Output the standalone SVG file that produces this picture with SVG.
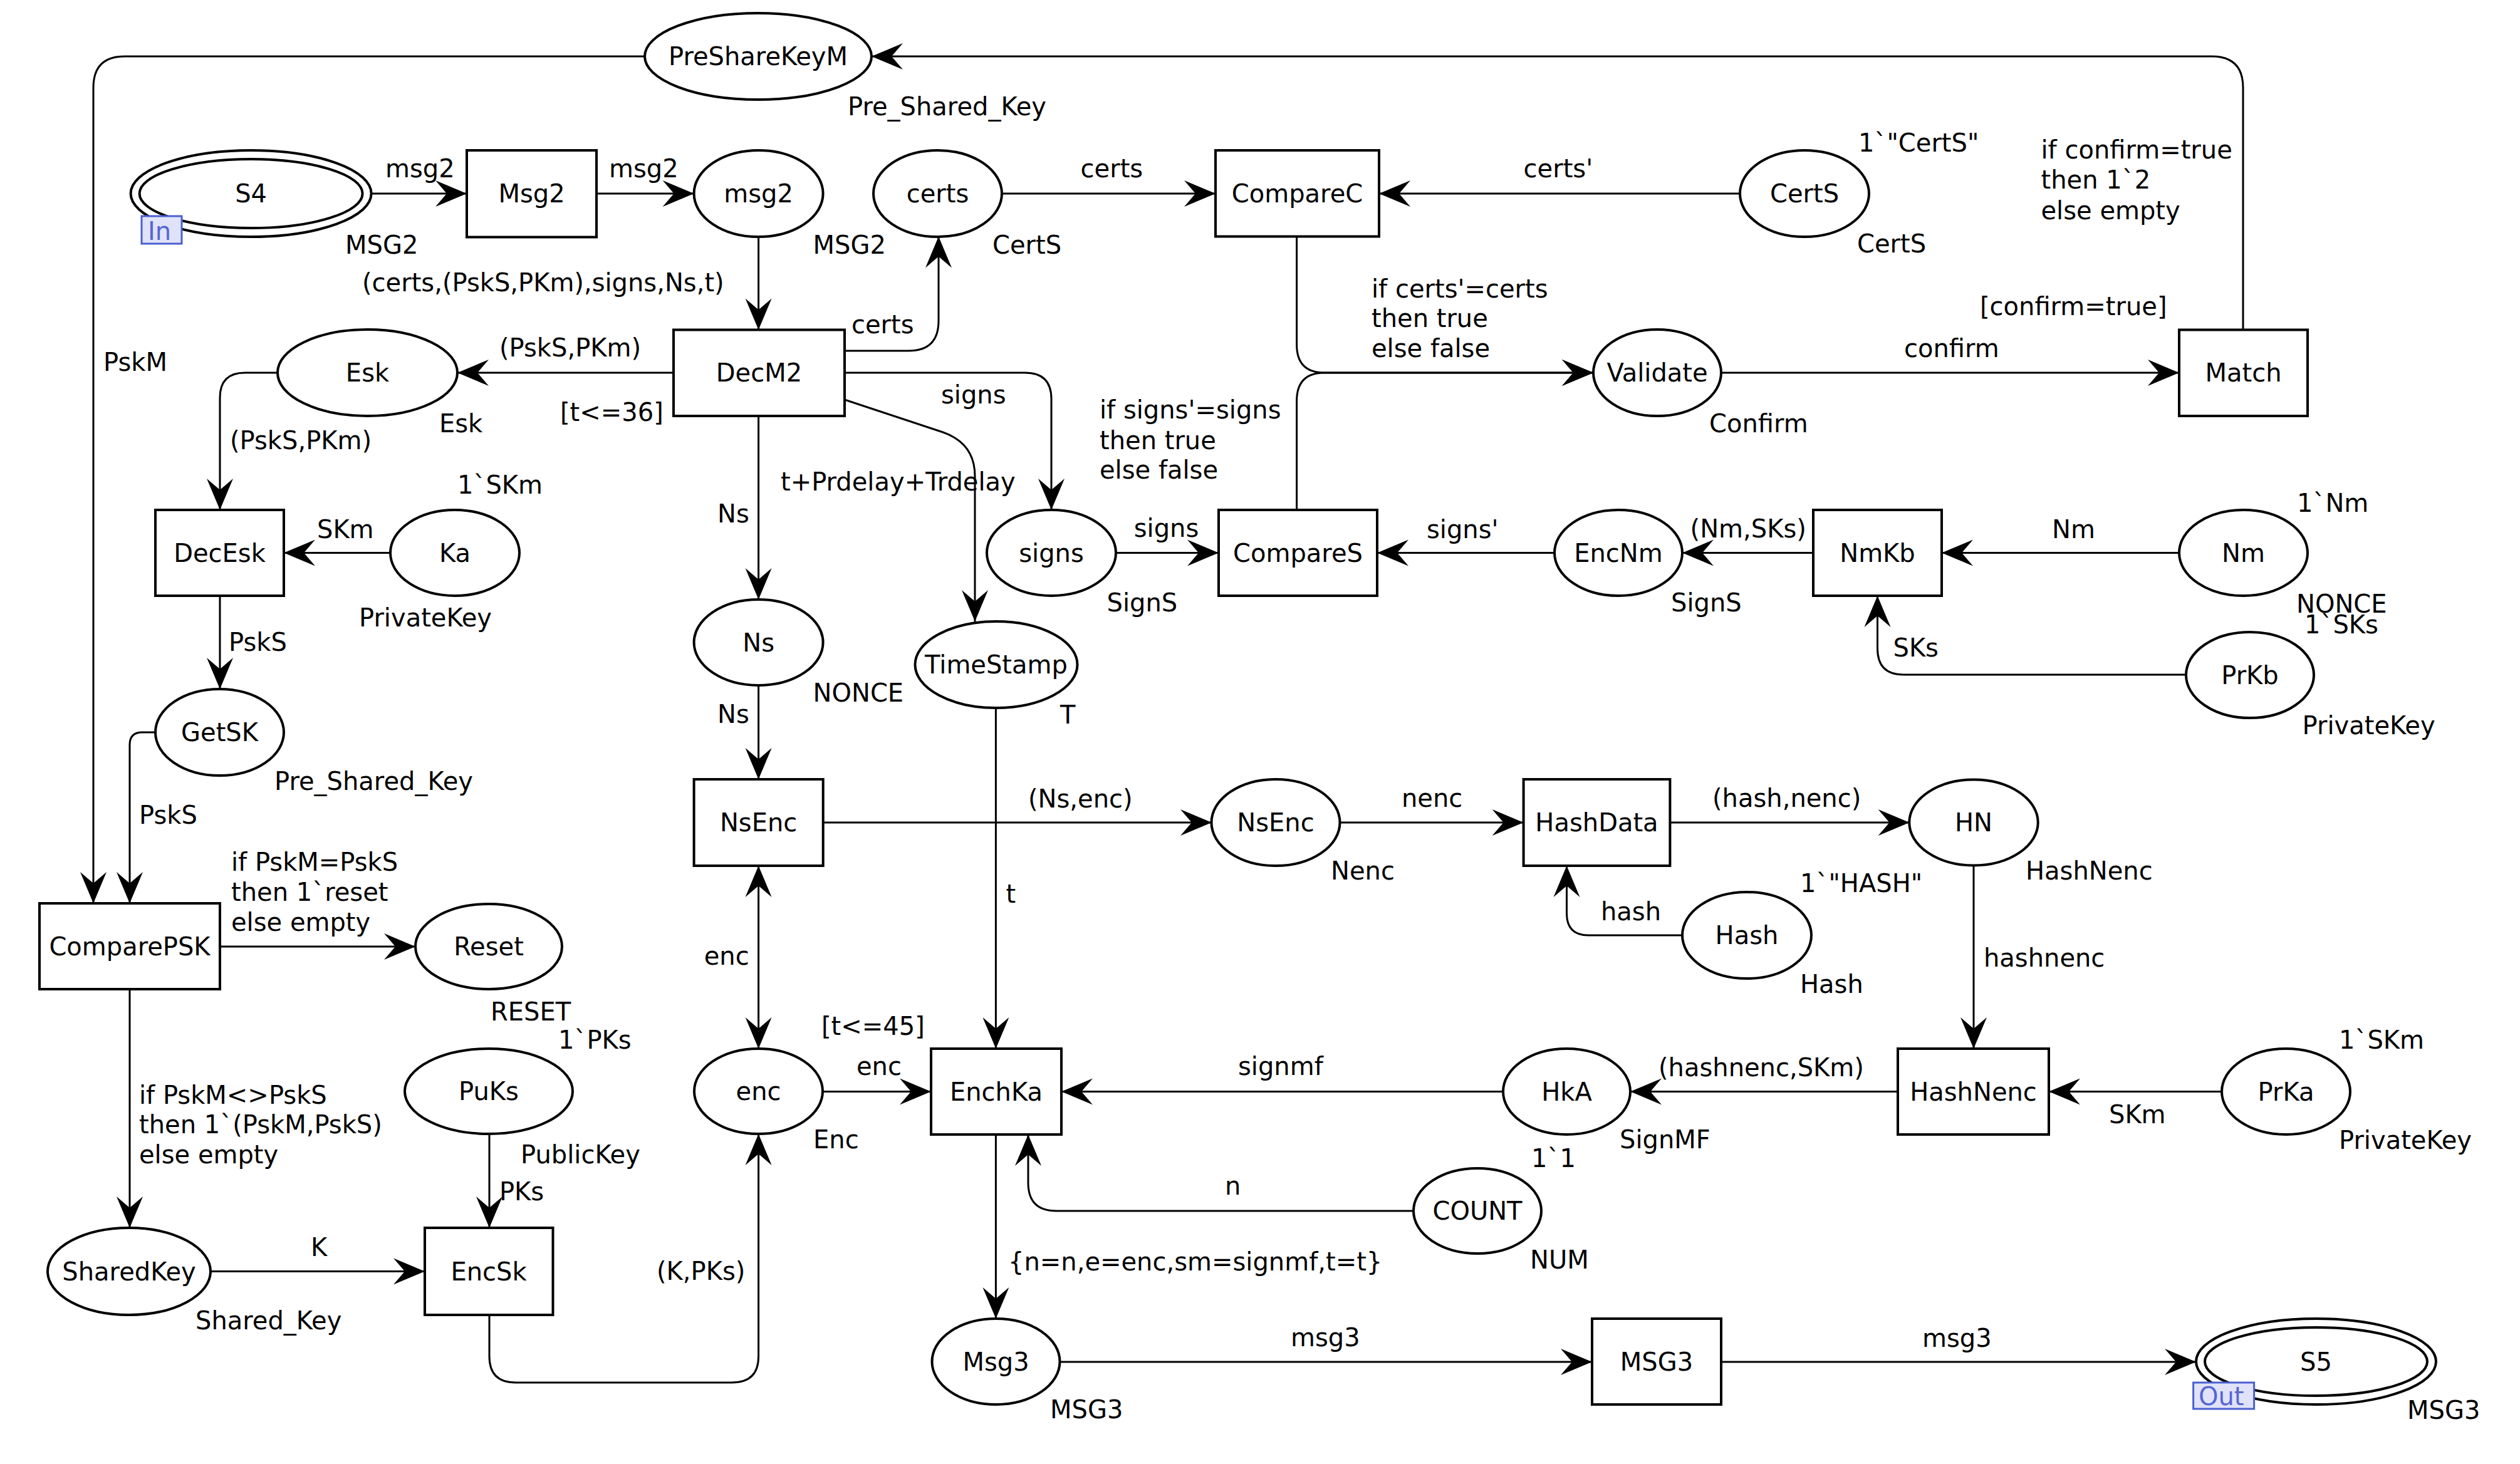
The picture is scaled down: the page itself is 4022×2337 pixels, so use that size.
<svg xmlns="http://www.w3.org/2000/svg" width="4022" height="2337" viewBox="0 0 4022 2337">
<style>
text{font-family:"DejaVu Sans","Liberation Sans",sans-serif;font-size:40px;fill:#000}
.nl{text-anchor:middle}
.pl{fill:#fff;stroke:#000;stroke-width:4}
.tr{fill:#fff;stroke:#000;stroke-width:4}
.arc{fill:none;stroke:#000;stroke-width:3;marker-end:url(#ah)}
.ln{fill:none;stroke:#000;stroke-width:3}
.tag{fill:#e0e2fa;stroke:#4a5fcf;stroke-width:3}
.tagt{fill:#5566d4;font-size:40px}
</style>
<defs>
<marker id="ah" markerUnits="userSpaceOnUse" viewBox="-52 -23 54 46" markerWidth="54" markerHeight="46" refX="0" refY="0" orient="auto-start-reverse">
<path d="M0,0 L-50,-21 L-32,0 L-50,21 Z" fill="#000"/>
</marker>
</defs>
<rect width="4022" height="2337" fill="#fff"/>

<g id="connectors">
<path class="arc" d="M1029,90 H199 Q149,90 149,140 V1442"/>
<path class="arc" d="M3580,526.5 V140 Q3580,90 3530,90 H1391"/>
<path class="arc" d="M593,309 H745"/>
<path class="arc" d="M952,309 H1107.6"/>
<path class="arc" d="M1210.6,377.5 V526.5"/>
<path class="arc" d="M1599,309 H1940"/>
<path class="arc" d="M2777,309 H2201"/>
<path class="arc" d="M1348,560 H1450 Q1498,560 1498,512 V377.5"/>
<path class="arc" d="M1075,595 H730"/>
<path class="arc" d="M1348,595 H1636 Q1678,595 1678,637 V814"/>
<path class="arc" d="M1348,638 L1505,690 Q1556,708 1556,760 V992"/>
<path class="arc" d="M443,595 H391 Q351,595 351,635 V814"/>
<path class="arc" d="M623.5,882.5 H453"/>
<path class="arc" d="M351,951 V1100"/>
<path class="arc" d="M248,1169 H227 Q207,1169 207,1189 V1442"/>
<path class="arc" d="M351,1511 H663"/>
<path class="arc" d="M207,1579 V1960"/>
<path class="arc" d="M336,2029.5 H678"/>
<path class="arc" d="M781,1810 V1960"/>
<path class="arc" d="M781,2099 V2165 Q781,2207 823,2207 H1168 Q1210.6,2207 1210.6,2165 V1810"/>
<path class="arc" d="M1210.6,664 V957"/>
<path class="arc" d="M1210.6,1094 V1244"/>
<path class="arc" style="marker-start:url(#ah)" d="M1210.6,1382 V1674"/>
<path class="arc" d="M1589.4,1130 V1674"/>
<path class="arc" d="M1313,1742.5 H1486"/>
<path class="arc" d="M1313.7,1313 H1934"/>
<path class="arc" d="M2138.5,1313 H2431.6"/>
<path class="arc" d="M2665.4,1313 H3047.6"/>
<path class="arc" d="M2685,1493 H2535 Q2500.5,1493 2500.5,1458 V1382"/>
<path class="arc" d="M3150,1381 V1674"/>
<path class="arc" d="M3546,1742.5 H3270"/>
<path class="arc" d="M3029,1742.5 H2602"/>
<path class="arc" d="M2399,1742.5 H1694"/>
<path class="arc" d="M2256,1933 H1686 Q1641,1933 1641,1888 V1811"/>
<path class="arc" d="M1589.4,1811 V2105"/>
<path class="arc" d="M1691,2174 H2541"/>
<path class="arc" d="M2747,2174 H3505"/>
<path class="arc" d="M1780.7,882.5 H1945"/>
<path class="arc" d="M2481,882.5 H2198"/>
<path class="arc" d="M2894,882.5 H2685"/>
<path class="arc" d="M3478,882.5 H3099"/>
<path class="arc" d="M3489,1077 H3038 Q2996.5,1077 2996.5,1035 V951"/>
<path class="arc" d="M2069.6,377.5 V550 Q2069.6,595 2114,595 H2543"/>
<path class="arc" d="M2069.6,814 V640 Q2069.6,595 2114,595 H2543"/>
<path class="arc" d="M2747,595 H3478"/>

<text x="615" y="283">msg2</text>
<text x="972" y="283">msg2</text>
<text x="1724.6" y="283">certs</text>
<text x="2431.6" y="283">certs'</text>
<text x="3257.5" y="252.5">if confirm=true<tspan x="3257.5" y="301">then 1`2</tspan><tspan x="3257.5" y="349.5">else empty</tspan></text>
<text x="165" y="592">PskM</text>
<text x="578" y="465">(certs,(PskS,PKm),signs,Ns,t)</text>
<text x="1359" y="532">certs</text>
<text x="797" y="569">(PskS,PKm)</text>
<text x="367" y="717">(PskS,PKm)</text>
<text x="1502" y="644">signs</text>
<text x="1755" y="668">if signs'=signs<tspan x="1755" y="717">then true</tspan><tspan x="1755" y="764">else false</tspan></text>
<text x="2189" y="474.5">if certs'=certs<tspan x="2189" y="522">then true</tspan><tspan x="2189" y="570">else false</tspan></text>
<text x="3039" y="570">confirm</text>
<text x="1246" y="783">t+Prdelay+Trdelay</text>
<text x="1145" y="833.6">Ns</text>
<text x="506" y="859">SKm</text>
<text x="1809.7" y="856.5">signs</text>
<text x="2277" y="859">signs'</text>
<text x="2697.6" y="858">(Nm,SKs)</text>
<text x="3275" y="859">Nm</text>
<text x="365" y="1039">PskS</text>
<text x="3021.5" y="1048">SKs</text>
<text x="1145" y="1154">Ns</text>
<text x="1641" y="1288.7">(Ns,enc)</text>
<text x="2237" y="1287.6">nenc</text>
<text x="2733" y="1287.6">(hash,nenc)</text>
<text x="222" y="1315">PskS</text>
<text x="369" y="1390">if PskM=PskS<tspan x="369" y="1438">then 1`reset</tspan><tspan x="369" y="1485.6">else empty</tspan></text>
<text x="1605.5" y="1440.7">t</text>
<text x="2555" y="1469">hash</text>
<text x="1123.7" y="1540">enc</text>
<text x="3166" y="1543">hashnenc</text>
<text x="1367" y="1716">enc</text>
<text x="1976" y="1716">signmf</text>
<text x="2647" y="1717.6">(hashnenc,SKm)</text>
<text x="222" y="1762">if PskM&lt;&gt;PskS<tspan x="222" y="1809">then 1`(PskM,PskS)</tspan><tspan x="222" y="1857">else empty</tspan></text>
<text x="3366" y="1793">SKm</text>
<text x="1955" y="1907">n</text>
<text x="797" y="1916">PKs</text>
<text x="496" y="2005">K</text>
<text x="1609" y="2028">{n=n,e=enc,sm=signmf,t=t}</text>
<text x="1048" y="2043">(K,PKs)</text>
<text x="2060" y="2149">msg3</text>
<text x="3068" y="2150">msg3</text>
</g>

<g id="p-PreShareKeyM"><ellipse class="pl" cx="1210" cy="90" rx="181" ry="69"/><text class="nl" x="1210" y="104">PreShareKeyM</text><text x="1353" y="183.7">Pre_Shared_Key</text></g>
<g id="p-S4"><ellipse class="pl" cx="400.6" cy="309" rx="192" ry="69"/><ellipse class="pl" cx="400.6" cy="309" rx="178" ry="55"/><text class="nl" x="400.6" y="323">S4</text><rect class="tag" x="226" y="345" width="64" height="44"/><text class="tagt" x="236" y="383">In</text><text x="551" y="404.6">MSG2</text></g>
<g id="t-Msg2"><rect class="tr" x="745" y="240" width="207" height="138.5"/><text class="nl" x="848.5" y="323">Msg2</text></g>
<g id="p-msg2"><ellipse class="pl" cx="1210.6" cy="309" rx="103" ry="69"/><text class="nl" x="1210.6" y="323">msg2</text><text x="1297.6" y="404.6">MSG2</text></g>
<g id="p-certs"><ellipse class="pl" cx="1496.5" cy="309" rx="102.5" ry="69"/><text class="nl" x="1496.5" y="323">certs</text><text x="1584" y="404.6">CertS</text></g>
<g id="t-CompareC"><rect class="tr" x="1940" y="240" width="261" height="137.5"/><text class="nl" x="2070.5" y="323">CompareC</text></g>
<g id="p-CertS"><ellipse class="pl" cx="2880" cy="309" rx="103" ry="69"/><text class="nl" x="2880" y="323">CertS</text><text x="2966" y="242">1`"CertS"</text><text x="2964" y="403">CertS</text></g>
<g id="p-Esk"><ellipse class="pl" cx="586.5" cy="595" rx="143.5" ry="69"/><text class="nl" x="586.5" y="609">Esk</text><text x="701" y="690">Esk</text></g>
<g id="t-DecM2"><rect class="tr" x="1075" y="526.5" width="273" height="137.5"/><text class="nl" x="1211.5" y="609">DecM2</text><text x="894" y="672">[t&lt;=36]</text></g>
<g id="p-Validate"><ellipse class="pl" cx="2645" cy="595" rx="102" ry="69"/><text class="nl" x="2645" y="609">Validate</text><text x="2728" y="690">Confirm</text></g>
<g id="t-Match"><rect class="tr" x="3478" y="526.5" width="205" height="137.5"/><text class="nl" x="3580.5" y="609">Match</text><text x="3160" y="502.5">[confirm=true]</text></g>
<g id="t-DecEsk"><rect class="tr" x="248" y="814" width="205" height="137"/><text class="nl" x="350.5" y="896.5">DecEsk</text></g>
<g id="p-Ka"><ellipse class="pl" cx="726" cy="882.5" rx="103" ry="68.5"/><text class="nl" x="726" y="896.5">Ka</text><text x="730" y="788">1`SKm</text><text x="573" y="1000">PrivateKey</text></g>
<g id="p-signs"><ellipse class="pl" cx="1678" cy="882.5" rx="103" ry="68.5"/><text class="nl" x="1678" y="896.5">signs</text><text x="1766.5" y="976">SignS</text></g>
<g id="t-CompareS"><rect class="tr" x="1945" y="814" width="253" height="137"/><text class="nl" x="2071.5" y="896.5">CompareS</text></g>
<g id="p-EncNm"><ellipse class="pl" cx="2583" cy="882.5" rx="102" ry="68.5"/><text class="nl" x="2583" y="896.5">EncNm</text><text x="2667" y="976">SignS</text></g>
<g id="t-NmKb"><rect class="tr" x="2894" y="814" width="205" height="137"/><text class="nl" x="2996.5" y="896.5">NmKb</text></g>
<g id="p-Nm"><ellipse class="pl" cx="3580.5" cy="882.5" rx="102.5" ry="68.5"/><text class="nl" x="3580.5" y="896.5">Nm</text><text x="3666" y="817">1`Nm</text><text x="3665" y="977.5">NONCE</text></g>
<g id="p-PrKb"><ellipse class="pl" cx="3591" cy="1077.5" rx="102" ry="68.6"/><text class="nl" x="3591" y="1091.5">PrKb</text><text x="3678" y="1010.6">1`SKs</text><text x="3674.6" y="1172">PrivateKey</text></g>
<g id="p-Ns"><ellipse class="pl" cx="1210.6" cy="1025.5" rx="103" ry="68.5"/><text class="nl" x="1210.6" y="1039.5">Ns</text><text x="1297.6" y="1120">NONCE</text></g>
<g id="p-TimeStamp"><ellipse class="pl" cx="1590" cy="1061" rx="129.5" ry="69"/><text class="nl" x="1590" y="1075">TimeStamp</text><text x="1692" y="1155">T</text></g>
<g id="p-GetSK"><ellipse class="pl" cx="350.5" cy="1169" rx="102.5" ry="69"/><text class="nl" x="350.5" y="1183">GetSK</text><text x="438" y="1260.6">Pre_Shared_Key</text></g>
<g id="t-NsEnc"><rect class="tr" x="1107.6" y="1244" width="206.1" height="138"/><text class="nl" x="1210.6" y="1327">NsEnc</text></g>
<g id="p-NsEnc"><ellipse class="pl" cx="2036" cy="1313" rx="102.5" ry="69"/><text class="nl" x="2036" y="1327">NsEnc</text><text x="2124" y="1403.5">Nenc</text></g>
<g id="t-HashData"><rect class="tr" x="2431.6" y="1244" width="233.8" height="138"/><text class="nl" x="2548.5" y="1327">HashData</text></g>
<g id="p-HN"><ellipse class="pl" cx="3150" cy="1313" rx="102.7" ry="68.5"/><text class="nl" x="3150" y="1327">HN</text><text x="3233" y="1403.5">HashNenc</text></g>
<g id="p-Hash"><ellipse class="pl" cx="2788" cy="1493" rx="103" ry="69"/><text class="nl" x="2788" y="1507">Hash</text><text x="2873" y="1424">1`"HASH"</text><text x="2873" y="1585">Hash</text></g>
<g id="t-ComparePSK"><rect class="tr" x="63" y="1442" width="288" height="137"/><text class="nl" x="207" y="1525">ComparePSK</text></g>
<g id="p-Reset"><ellipse class="pl" cx="780" cy="1511" rx="117" ry="68"/><text class="nl" x="780" y="1525">Reset</text><text x="783" y="1629">RESET</text></g>
<g id="p-PuKs"><ellipse class="pl" cx="780" cy="1742" rx="134" ry="68"/><text class="nl" x="780" y="1756">PuKs</text><text x="891" y="1674">1`PKs</text><text x="831" y="1857">PublicKey</text></g>
<g id="p-enc"><ellipse class="pl" cx="1210.5" cy="1742" rx="102.5" ry="68"/><text class="nl" x="1210.5" y="1756">enc</text><text x="1298" y="1832.5">Enc</text></g>
<g id="t-EnchKa"><rect class="tr" x="1486" y="1674" width="208" height="137"/><text class="nl" x="1590" y="1756.5">EnchKa</text><text x="1311" y="1652">[t&lt;=45]</text></g>
<g id="p-HkA"><ellipse class="pl" cx="2500.5" cy="1742.5" rx="101.5" ry="68.5"/><text class="nl" x="2500.5" y="1756.5">HkA</text><text x="2585" y="1832.5">SignMF</text></g>
<g id="t-HashNenc"><rect class="tr" x="3029" y="1674" width="241" height="137"/><text class="nl" x="3149.5" y="1756.5">HashNenc</text></g>
<g id="p-PrKa"><ellipse class="pl" cx="3648.5" cy="1742.5" rx="102.5" ry="68.5"/><text class="nl" x="3648.5" y="1756.5">PrKa</text><text x="3733" y="1674">1`SKm</text><text x="3733" y="1834">PrivateKey</text></g>
<g id="p-COUNT"><ellipse class="pl" cx="2358" cy="1933" rx="102" ry="68"/><text class="nl" x="2358" y="1947">COUNT</text><text x="2444" y="1863">1`1</text><text x="2442" y="2025">NUM</text></g>
<g id="p-SharedKey"><ellipse class="pl" cx="206" cy="2029.5" rx="130" ry="69.5"/><text class="nl" x="206" y="2043.5">SharedKey</text><text x="312" y="2122">Shared_Key</text></g>
<g id="t-EncSk"><rect class="tr" x="678" y="1960" width="204.5" height="139"/><text class="nl" x="780" y="2043.5">EncSk</text></g>
<g id="p-Msg3"><ellipse class="pl" cx="1589.5" cy="2173.5" rx="102" ry="68.5"/><text class="nl" x="1589.5" y="2187.5">Msg3</text><text x="1676" y="2264">MSG3</text></g>
<g id="t-MSG3"><rect class="tr" x="2541" y="2105" width="206" height="137"/><text class="nl" x="2644" y="2187.5">MSG3</text></g>
<g id="p-S5"><ellipse class="pl" cx="3696.5" cy="2173.5" rx="191.5" ry="68.5"/><ellipse class="pl" cx="3696.5" cy="2173.5" rx="177.5" ry="54.5"/><text class="nl" x="3696.5" y="2187.5">S5</text><rect class="tag" x="3500.6" y="2207" width="97" height="42"/><text class="tagt" x="3509" y="2243">Out</text><text x="3842" y="2265">MSG3</text></g>
</svg>
